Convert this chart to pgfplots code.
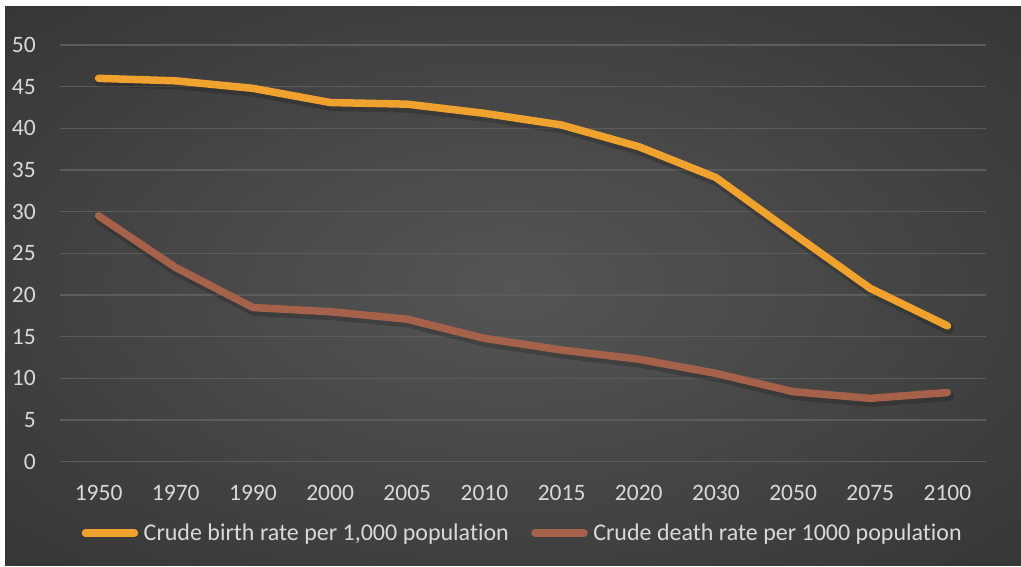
\documentclass[border=0pt]{standalone}
\usepackage{pgfplots}
\pgfplotsset{compat=1.18}
\usepackage{fontspec}
\setmainfont{Carlito}[Ligatures=NoCommon]
\definecolor{birthc}{HTML}{F0A22E}
\definecolor{deathc}{HTML}{A5614A}
\definecolor{labelc}{HTML}{D9D9D9}
\definecolor{gridc}{HTML}{5C5C5C}
\definecolor{bgin}{HTML}{555555}
\definecolor{bgout}{HTML}{292929}
\pgfdeclareradialshading{bgshade}{\pgfpoint{0bp}{0bp}}{color(0bp)=(bgin); color(50bp)=(bgout)}
\pgfplotstableread{
x birth death
0 46.0 29.5
1 45.7 23.3
2 44.8 18.5
3 43.1 18.0
4 42.9 17.1
5 41.8 14.8
6 40.4 13.4
7 37.8 12.3
8 34.1 10.6
9 27.4 8.4
10 20.8 7.6
11 16.3 8.3
}\datatable
\begin{document}
\begin{tikzpicture}
\fill[white] (0pt,0pt) rectangle (1021pt,567pt);
\shade[shading=bgshade] (5pt,1pt) rectangle (1021pt,560pt);
\begin{axis}[
  at={(60pt,105.3pt)}, anchor=south west,
  scale only axis, width=926pt, height=416.7pt,
  xmin=-0.5, xmax=11.5, ymin=0, ymax=50,
  clip=false,
  axis line style={draw=none},
  ytick={0,5,...,50},
  xtick={0,...,11},
  xticklabels={1950,1970,1990,2000,2005,2010,2015,2020,2030,2050,2075,2100},
  major tick length=0pt,
  ymajorgrids,
  grid style={color=gridc, line width=1.5pt},
  /pgf/number format/assume math mode=true,
  every tick label/.append style={font=\fontsize{23.5}{28}\selectfont, text=labelc, inner sep=0pt},
  yticklabel style={anchor=east, xshift=-24pt},
  xticklabel style={anchor=center, yshift=-31.3pt},
  legend columns=2,
  legend style={draw=none, fill=none, at={(0.5,0)}, anchor=center, yshift=-71.3pt, xshift=-2pt,
    font=\fontsize{24}{29}\selectfont, text=labelc,
    nodes={inner sep=2pt},
    /tikz/every even column/.append style={column sep=17pt}},
  legend image code/.code={\path (0pt,0pt) (56pt,0pt); \draw[#1, line cap=round] (3.5pt,0pt) -- (52.5pt,0pt);},
]
\addplot[forget plot, black, opacity=0.18, line width=11pt, line cap=round, line join=round, xshift=1.5pt, yshift=-3pt] table[x=x, y=birth] {\datatable};
\addplot[forget plot, black, opacity=0.18, line width=11pt, line cap=round, line join=round, xshift=1.5pt, yshift=-3pt] table[x=x, y=death] {\datatable};
\addplot[birthc, line width=7.5pt, line cap=round, line join=round] table[x=x, y=birth] {\datatable};
\addlegendentry{Crude birth rate per 1,000 population}
\addplot[deathc, line width=7.5pt, line cap=round, line join=round] table[x=x, y=death] {\datatable};
\addlegendentry{Crude death rate per 1000 population}
\end{axis}
\end{tikzpicture}
\end{document}
